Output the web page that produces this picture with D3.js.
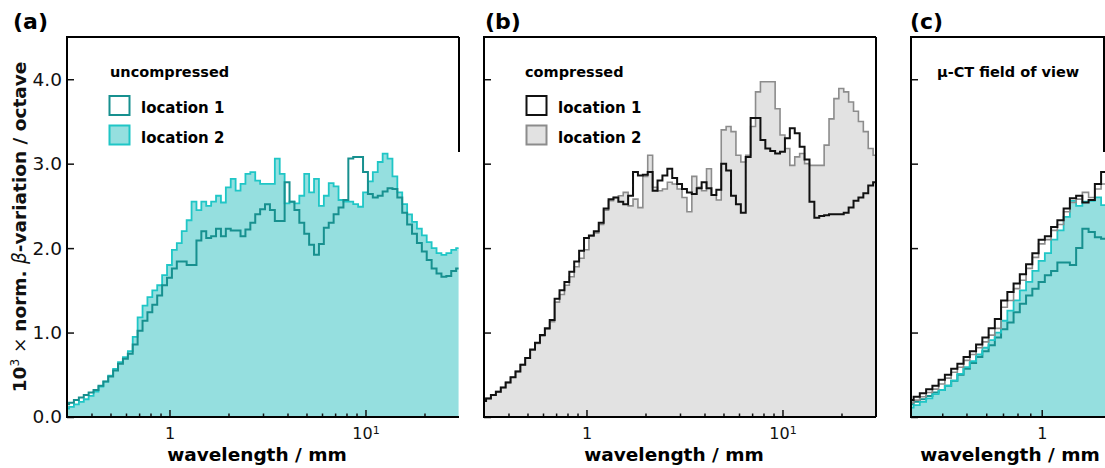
<!DOCTYPE html>
<html lang="en">
<head>
  <meta charset="UTF-8" />
  <title>beta-variation per octave</title>
  <script src="https://d3js.org/d3.v7.min.js"></script>
  <style>
    body { margin: 0; background: #fff; font-family: "DejaVu Sans", sans-serif; }
    svg { display: block; }
    .tick text { font-family: "DejaVu Sans", sans-serif; fill: #111; }
    .bold { font-weight: bold; }
  </style>
</head>
<body>
<svg id="chart" width="1105" height="468"></svg>
<script>
// wavelength grid (mm), shared by all series
const wavelength = [
  0.299, 0.316, 0.335, 0.355, 0.376, 0.398, 0.422, 0.447, 0.473, 0.501,
  0.531, 0.562, 0.596, 0.631, 0.668, 0.708, 0.750, 0.794, 0.841, 0.891,
  0.944, 1.000, 1.059, 1.122, 1.189, 1.259, 1.334, 1.413, 1.496, 1.585,
  1.679, 1.778, 1.884, 1.995, 2.113, 2.239, 2.371, 2.512, 2.661, 2.818,
  2.985, 3.162, 3.350, 3.548, 3.758, 3.981, 4.217, 4.467, 4.732, 5.012,
  5.309, 5.623, 5.957, 6.310, 6.683, 7.079, 7.499, 7.943, 8.414, 8.913,
  9.441, 10.00, 10.59, 11.22, 11.89, 12.59, 13.34, 14.13, 14.96, 15.85,
  16.79, 17.78, 18.84, 19.95, 21.13, 22.39, 23.71, 25.12, 26.61, 28.18,
  29.85
];

// (a) uncompressed
const uncompLoc1 = [
  0.15, 0.17, 0.20, 0.23, 0.26, 0.29, 0.32, 0.37, 0.42, 0.48,
  0.55, 0.63, 0.69, 0.75, 0.86, 1.02, 1.14, 1.24, 1.33, 1.44,
  1.56, 1.65, 1.76, 1.84, 1.84, 1.80, 1.80, 2.09, 2.20, 2.12,
  2.14, 2.23, 2.14, 2.23, 2.21, 2.21, 2.14, 2.22, 2.30, 2.40,
  2.46, 2.52, 2.45, 2.32, 2.32, 2.78, 2.55, 2.45, 2.30, 2.17,
  2.04, 1.92, 2.05, 2.24, 2.30, 2.40, 2.48, 2.57, 3.06, 3.08,
  3.08, 2.90, 2.64, 2.60, 2.62, 2.67, 2.71, 2.70, 2.60, 2.42,
  2.28, 2.17, 2.06, 1.96, 1.86, 1.76, 1.70, 1.66, 1.67, 1.73,
  1.76
];
const uncompLoc2 = [
  0.10, 0.12, 0.15, 0.18, 0.21, 0.25, 0.30, 0.36, 0.42, 0.49,
  0.57, 0.65, 0.71, 0.78, 0.95, 1.18, 1.32, 1.42, 1.50, 1.56,
  1.68, 1.80, 1.98, 2.06, 2.20, 2.33, 2.55, 2.45, 2.55, 2.50,
  2.55, 2.62, 2.54, 2.72, 2.82, 2.68, 2.76, 2.88, 2.90, 2.80,
  2.76, 2.76, 2.76, 3.06, 2.88, 2.53, 2.55, 2.53, 2.62, 2.88,
  2.66, 2.82, 2.50, 2.62, 2.77, 2.73, 2.57, 2.55, 2.55, 2.52,
  2.49, 2.66, 2.79, 2.90, 3.02, 3.12, 3.06, 2.85, 2.66, 2.52,
  2.40, 2.31, 2.23, 2.15, 2.07, 2.00, 1.94, 1.92, 1.94, 1.98,
  2.00
];

// (b) compressed
const compLoc1 = [
  0.19, 0.22, 0.26, 0.30, 0.35, 0.41, 0.47, 0.54, 0.62, 0.70,
  0.80, 0.88, 0.97, 1.05, 1.15, 1.40, 1.50, 1.60, 1.72, 1.84,
  1.97, 2.12, 2.15, 2.20, 2.30, 2.47, 2.58, 2.60, 2.55, 2.52,
  2.62, 2.90, 2.86, 2.87, 2.90, 2.68, 2.80, 2.86, 2.94, 2.83,
  2.76, 2.70, 2.66, 2.64, 2.71, 2.78, 2.71, 2.63, 2.69, 3.00,
  2.92, 2.62, 2.52, 2.42, 3.08, 3.54, 3.54, 3.28, 3.18, 3.15,
  3.12, 3.14, 3.30, 3.42, 3.36, 3.20, 3.05, 2.55, 2.36, 2.38,
  2.39, 2.40, 2.40, 2.40, 2.42, 2.48, 2.56, 2.60, 2.65, 2.74,
  2.78
];
const compLoc2 = [
  0.19, 0.22, 0.26, 0.30, 0.35, 0.41, 0.47, 0.54, 0.62, 0.70,
  0.79, 0.87, 0.96, 1.04, 1.13, 1.36, 1.45, 1.56, 1.66, 1.78,
  1.88, 1.98, 2.14, 2.18, 2.28, 2.45, 2.56, 2.60, 2.62, 2.66,
  2.50, 2.58, 2.48, 2.85, 3.10, 2.72, 2.68, 2.70, 2.78, 2.76,
  2.70, 2.60, 2.43, 2.85, 2.72, 2.68, 2.94, 2.63, 2.57, 3.40,
  3.44, 3.38, 3.10, 3.02, 3.10, 3.44, 3.85, 3.97, 3.97, 3.97,
  3.65, 3.34, 3.18, 2.98, 3.08, 3.12, 3.00, 2.98, 2.98, 2.98,
  3.22, 3.53, 3.77, 3.89, 3.85, 3.73, 3.62, 3.50, 3.38, 3.18,
  3.10
];

// (c) u-CT field of view (only the left part is in the picture)
const ctCompLoc1 = [
  0.20, 0.24, 0.28, 0.33, 0.37, 0.44, 0.50, 0.57, 0.63, 0.71,
  0.78, 0.86, 0.94, 1.05, 1.16, 1.38, 1.48, 1.58, 1.69, 1.81,
  1.94, 2.10, 2.14, 2.25, 2.33, 2.47, 2.59, 2.62, 2.54, 2.57,
  2.76, 2.90, 2.88, 2.85
];
const ctCompLoc2 = [
  0.17, 0.20, 0.24, 0.29, 0.33, 0.39, 0.46, 0.53, 0.59, 0.67,
  0.74, 0.82, 0.89, 0.97, 1.05, 1.30, 1.38, 1.52, 1.62, 1.76,
  1.89, 2.05, 2.10, 2.21, 2.28, 2.43, 2.54, 2.58, 2.66, 2.60,
  2.70, 2.76, 2.76, 2.76
];
const ctUncompLoc1 = [
  0.15, 0.18, 0.21, 0.25, 0.29, 0.32, 0.37, 0.43, 0.50, 0.57,
  0.64, 0.71, 0.78, 0.85, 0.94, 1.04, 1.12, 1.24, 1.34, 1.44,
  1.52, 1.60, 1.68, 1.73, 1.83, 1.83, 1.80, 2.00, 2.23, 2.19,
  2.13, 2.11, 2.11, 2.11
];
const ctUncompLoc2 = [
  0.11, 0.14, 0.18, 0.22, 0.27, 0.32, 0.37, 0.43, 0.51, 0.59,
  0.66, 0.74, 0.82, 0.91, 1.00, 1.14, 1.26, 1.38, 1.50, 1.60,
  1.73, 1.85, 1.94, 2.10, 2.21, 2.37, 2.56, 2.50, 2.55, 2.56,
  2.60, 2.51, 2.52, 2.52
];

const yTicks = [0, 1, 2, 3, 4];
const yTickLabels = ["0.0", "1.0", "2.0", "3.0", "4.0"];
const xMajor = [1, 10];
const xMinor = [0.4, 0.5, 0.6, 0.7, 0.8, 0.9, 2, 3, 4, 5, 6, 7, 8, 9, 20];

const TEAL = "#17908f", CYAN = "#1fc6c6", CYAN_FILL = "#95dfdf";
const BLACK = "#111111", GREY = "#8c8c8c", GREY_FILL = "#e2e2e2";

const svg = d3.select("#chart");
const plotTop = 37, plotBottom = 417;
const y = d3.scaleLinear().domain([0, 4.5]).range([plotBottom, plotTop]);

function series(vals) {
  return vals.map((v, i) => ({ w: wavelength[i], v: v }));
}

function drawPanel(p) {
  const x = d3.scaleLog().domain([0.3, 30]).range([p.left, p.left + p.decade * 2]);
  const visRight = Math.min(p.right, 1105);
  const g = svg.append("g");

  const clipId = "clip-" + p.id;
  svg.append("clipPath").attr("id", clipId)
    .append("rect").attr("x", p.left).attr("y", plotTop)
    .attr("width", visRight - p.left).attr("height", plotBottom - plotTop);

  const plot = g.append("g").attr("clip-path", `url(#${clipId})`);
  const area = d3.area().curve(d3.curveStep)
    .x(d => x(d.w)).y0(y(0)).y1(d => y(d.v));
  const line = d3.line().curve(d3.curveStep)
    .x(d => x(d.w)).y(d => y(d.v));

  plot.append("path").datum(series(p.fill.values))
    .attr("d", area).attr("fill", p.fill.color);
  p.lines.forEach(s => {
    plot.append("path").datum(series(s.values))
      .attr("d", line).attr("fill", "none")
      .attr("stroke", s.color).attr("stroke-width", s.width)
      .attr("stroke-linejoin", "miter");
  });

  // axes, ticks pointing inward
  const xAxisMajor = d3.axisBottom(x).tickValues(xMajor.filter(v => x(v) < visRight))
    .tickSize(-7).tickPadding(11)
    .tickFormat(d => d === 1 ? "1" : "10");
  const xg = g.append("g").attr("transform", `translate(0,${plotBottom})`).call(xAxisMajor);
  xg.select(".domain").remove();
  xg.selectAll("text").attr("font-size", 16);
  xg.selectAll(".tick").filter(d => d === 10).select("text")
    .append("tspan").attr("dy", "-0.45em").attr("font-size", 11).text("1");
  xg.selectAll("line").attr("stroke", "#111").attr("stroke-width", 1.5);

  const xm = g.append("g").attr("transform", `translate(0,${plotBottom})`)
    .call(d3.axisBottom(x).tickValues(xMinor.filter(v => x(v) < visRight)).tickSize(-3.5).tickFormat(""));
  xm.select(".domain").remove();
  xm.selectAll("line").attr("stroke", "#111").attr("stroke-width", 1.5);

  const yAxis = d3.axisLeft(y).tickValues(yTicks).tickSize(-7).tickPadding(5)
    .tickFormat((d, i) => p.yLabels ? yTickLabels[i] : "");
  const yg = g.append("g").attr("transform", `translate(${p.left},0)`).call(yAxis);
  yg.select(".domain").remove();
  yg.selectAll("text").attr("font-size", 18.5);
  yg.selectAll("line").attr("stroke", "#111").attr("stroke-width", 1.5);

  // frame
  const frame = g.append("g").attr("stroke", "#000").attr("stroke-width", 2).attr("fill", "none");
  frame.append("line").attr("x1", p.left).attr("x2", p.left).attr("y1", plotTop).attr("y2", plotBottom + 1);
  frame.append("line").attr("x1", p.left - 1).attr("x2", visRight).attr("y1", plotTop).attr("y2", plotTop);
  frame.append("line").attr("x1", p.left - 1).attr("x2", visRight).attr("y1", plotBottom).attr("y2", plotBottom);
  frame.append("line").attr("x1", p.rightLine.x).attr("x2", p.rightLine.x)
    .attr("y1", plotTop).attr("y2", p.rightLine.y2);

  // panel tag
  svg.append("text").attr("class", "bold").attr("x", p.tagX).attr("y", 29)
    .attr("font-size", 22).text(p.tag);

  // x label
  svg.append("text").attr("class", "bold").attr("x", p.xLabelX).attr("y", 461)
    .attr("text-anchor", "middle").attr("font-size", 18.5).text("wavelength / mm");

  // legend
  const lg = svg.append("g");
  lg.append("text").attr("class", "bold").attr("x", p.left + p.titleDx).attr("y", 77)
    .attr("font-size", 14.5).text(p.legendTitle);
  (p.legend || []).forEach((item, i) => {
    const ly = 96 + i * 29.5;
    lg.append("rect").attr("x", p.left + 42.5).attr("y", ly).attr("width", 20).attr("height", 19)
      .attr("fill", item.fill).attr("stroke", item.stroke).attr("stroke-width", 2);
    lg.append("text").attr("class", "bold").attr("x", p.left + 74).attr("y", ly + 17)
      .attr("font-size", 15).text(item.label);
  });
}

drawPanel({
  id: "a", tag: "(a)", tagX: 13, left: 67, right: 459, decade: 196, yLabels: true,
  rightLine: { x: 459, y2: 152 }, xLabelX: 257, titleDx: 43,
  fill: { values: uncompLoc2, color: CYAN_FILL },
  lines: [
    { values: uncompLoc2, color: CYAN, width: 1.8 },
    { values: uncompLoc1, color: TEAL, width: 2 }
  ],
  legendTitle: "uncompressed",
  legend: [
    { label: "location 1", fill: "#fff", stroke: TEAL },
    { label: "location 2", fill: CYAN_FILL, stroke: CYAN }
  ]
});

drawPanel({
  id: "b", tag: "(b)", tagX: 485, left: 484, right: 876, decade: 196, yLabels: false,
  rightLine: { x: 876, y2: plotBottom }, xLabelX: 674, titleDx: 41,
  fill: { values: compLoc2, color: GREY_FILL },
  lines: [
    { values: compLoc2, color: GREY, width: 1.6 },
    { values: compLoc1, color: BLACK, width: 2 }
  ],
  legendTitle: "compressed",
  legend: [
    { label: "location 1", fill: "#fff", stroke: BLACK },
    { label: "location 2", fill: GREY_FILL, stroke: GREY }
  ]
});

drawPanel({
  id: "c", tag: "(c)", tagX: 910, left: 911, right: 1411, decade: 250, yLabels: false,
  rightLine: { x: 1104, y2: 152 }, xLabelX: 1010, titleDx: 26,
  fill: { values: ctUncompLoc2, color: CYAN_FILL },
  lines: [
    { values: ctUncompLoc1, color: TEAL, width: 2 },
    { values: ctUncompLoc2, color: CYAN, width: 1.8 },
    { values: ctCompLoc2, color: GREY, width: 1.6 },
    { values: ctCompLoc1, color: BLACK, width: 2 }
  ],
  legendTitle: "\u03bc-CT field of view",
  legend: []
});

// shared y label
const yl = svg.append("text")
  .attr("transform", "translate(26,227) rotate(-90)")
  .attr("text-anchor", "middle").attr("font-size", 18.5).attr("fill", "#111");
yl.append("tspan").attr("font-weight", "bold").text("10");
yl.append("tspan").attr("font-size", 12).attr("dy", "-0.55em").text("3");
yl.append("tspan").attr("dy", "0.37em").text(" \u00d7 ");
yl.append("tspan").attr("font-weight", "bold").text("norm. ");
yl.append("tspan").attr("font-style", "italic").text("\u03b2");
yl.append("tspan").attr("font-weight", "bold").text("-variation / octave");
</script>
</body>
</html>
